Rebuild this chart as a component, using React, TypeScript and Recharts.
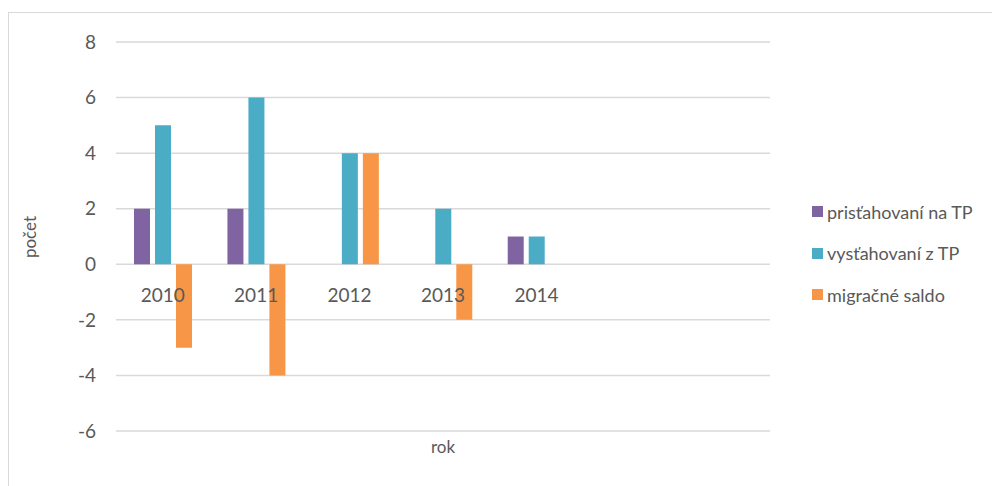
import { BarChart, Bar, XAxis, YAxis, CartesianGrid, Legend, Label } from 'recharts';

const years = ['2010', '2011', '2012', '2013', '2014', '', ' '];
const prisahovani = [2, 2, 0, 0, 1, null, null];
const vystahovani = [5, 6, 4, 2, 1, null, null];
const saldo = [-3, -4, 4, -2, 0, null, null];
const yTicks = [-6, -4, -2, 0, 2, 4, 6, 8];

const SERIES = [
  { key: 'prist', name: 'prisťahovaní na TP', color: '#8064A2' },
  { key: 'vyst', name: 'vysťahovaní z TP', color: '#4BACC6' },
  { key: 'saldo', name: 'migračné saldo', color: '#F79646' },
];

const data = years.map((rok, i) => ({
  rok,
  prist: prisahovani[i],
  vyst: vystahovani[i],
  saldo: saldo[i],
}));

const FONT = 'Lato, "Open Sans", sans-serif';
const TEXT = '#595959';
const GRID = '#d9d9d9';

// plot box (chart coords); the legend's 190px width is added on the right
const LEGEND_W = 190;
const M = { top: 29, right: 230 - LEGEND_W, left: 0, bottom: 25 };
const W = 991;
const H = 473;
const X_AXIS_H = 30;
const PLOT_TOP = M.top;
const PLOT_H = H - M.top - M.bottom - X_AXIS_H;
const Y_MIN = -6;
const Y_MAX = 8;

// Excel draws the category labels just under the zero line
const YearTick = ({ x, payload }: any) => {
  const zeroY = PLOT_TOP + (PLOT_H * Y_MAX) / (Y_MAX - Y_MIN);
  return (
    <text x={x} y={zeroY + 38} textAnchor="middle" fill={TEXT} fontSize={19} fontFamily={FONT}>
      {payload.value}
    </text>
  );
};

const renderLegend = () => (
  <div style={{ fontFamily: FONT, fontSize: 18, color: TEXT }}>
    {SERIES.map((s) => (
      <div key={s.key} style={{ display: 'flex', alignItems: 'center', height: 41.5 }}>
        <span style={{ width: 11, height: 11, background: s.color, marginRight: 4, display: 'inline-block' }} />
        {s.name}
      </div>
    ))}
  </div>
);

export default function App() {
  return (
    <div
      style={{
        marginTop: 4,
        width: 991,
        height: 473,
        borderTop: `1px solid ${GRID}`,
        borderLeft: `1px solid ${GRID}`,
        background: '#fff',
      }}
    >
      <BarChart width={W} height={H} data={data} margin={M} barSize={16} barGap={5}>
        <CartesianGrid vertical={false} stroke={GRID} strokeWidth={1.5} />
        <XAxis
          dataKey="rok"
          height={X_AXIS_H}
          axisLine={false}
          tickLine={false}
          tick={<YearTick />}
          interval={0}
        >
          <Label
            content={() => (
              <text x={434} y={440} textAnchor="middle" fill={TEXT} fontSize={17} fontFamily={FONT}>
                rok
              </text>
            )}
          />
        </XAxis>
        <YAxis
          width={107}
          domain={[Y_MIN, Y_MAX]}
          ticks={yTicks}
          axisLine={false}
          tickLine={false}
          tickSize={0}
          tickMargin={20}
          tick={{ fill: TEXT, fontSize: 19, fontFamily: FONT }}
        >
          <Label
            content={() => (
              <text
                x={0}
                y={0}
                transform="translate(27 224) rotate(-90)"
                textAnchor="middle"
                fill={TEXT}
                fontSize={17}
                fontFamily={FONT}
              >
                počet
              </text>
            )}
          />
        </YAxis>
        <Legend
          layout="vertical"
          align="right"
          verticalAlign="middle"
          content={renderLegend}
          wrapperStyle={{ left: 803, top: 178, width: LEGEND_W }}
        />
        {SERIES.map((s) => (
          <Bar key={s.key} dataKey={s.key} name={s.name} fill={s.color} isAnimationActive={false} />
        ))}
      </BarChart>
    </div>
  );
}
